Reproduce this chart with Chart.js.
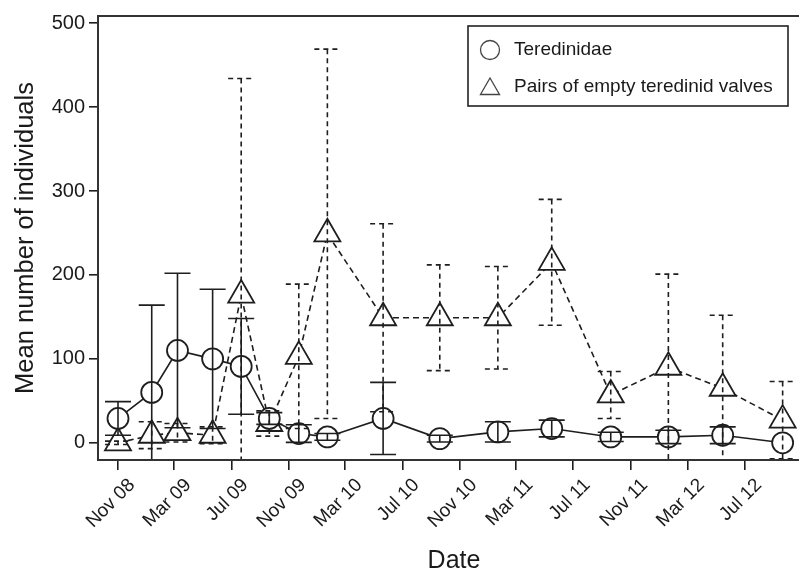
<!DOCTYPE html>
<html><head><meta charset="utf-8">
<script src="https://cdn.jsdelivr.net/npm/chart.js@4.4.1/dist/chart.umd.min.js"></script>
<style>html,body{margin:0;padding:0;background:#fff;overflow:hidden}#wrap{width:799px;height:572px;position:relative;overflow:hidden}</style>
</head><body><div id="wrap"><canvas id="c" width="810" height="572"></canvas></div>
<script>
// ---- data ----
const sampleDates = ['2008-11-01','2009-01-12','2009-03-08','2009-05-22','2009-07-22','2009-09-20','2009-11-22','2010-01-22','2010-05-21','2010-09-19','2011-01-21','2011-05-16','2011-09-19','2012-01-20','2012-05-15','2012-09-20'];
const teredinidae    = [29, 60, 110, 100, 91, 29, 11, 7, 29, 5, 13, 17, 7, 7, 9, 0];
const teredinidaeErr = [20, 104, 92, 83, 57, 7, 10.5, 4, 43, 4, 12, 10, 5.5, 8, 10, 0];
const emptyValves    = [0, 9, 12, 9, 176, 23, 103, 249, 149, 149, 149, 215, 57, 90, 65, 27];
const emptyValvesErr = [2, 16, 11, 10, 258, 15, 86, 220, 112, 63, 61, 75, 28, 111, 87, 46];
const tickDates  = ['2008-11-01','2009-03-01','2009-07-01','2009-11-01','2010-03-01','2010-07-01','2010-11-01','2011-03-01','2011-07-01','2011-11-01','2012-03-01','2012-07-01'];
const tickLabels = ['Nov 08','Mar 09','Jul 09','Nov 09','Mar 10','Jul 10','Nov 10','Mar 11','Jul 11','Nov 11','Mar 12','Jul 12'];
const yTicks = [0, 100, 200, 300, 400, 500];
const seriesNames = ['Teredinidae', 'Pairs of empty teredinid valves'];
const xTitle = 'Date';
const yTitle = 'Mean number of individuals';

const ORIGIN = Date.UTC(2008, 10, 1);
function dayOf(s) { const p = s.split('-').map(Number); return (Date.UTC(p[0], p[1]-1, p[2]) - ORIGIN) / 86400000; }
const xDays = sampleDates.map(dayOf);
const tickDays = tickDates.map(dayOf);

const INK = '#1e1e1e';
const FONT = "'Liberation Sans', Arial, Helvetica, sans-serif";

const errorBars = {
  id: 'errorBars',
  afterDatasetsDraw(chart) {
    const ctx = chart.ctx, area = chart.chartArea, ys = chart.scales.y;
    ctx.save();
    ctx.beginPath();
    ctx.rect(area.left, area.top, area.right - area.left, area.bottom - area.top);
    ctx.clip();
    chart.data.datasets.forEach((ds, di) => {
      const meta = chart.getDatasetMeta(di);
      ctx.strokeStyle = INK;
      ctx.lineWidth = 1.6;
      ctx.setLineDash(ds.errDash || []);
      ds.err.forEach((e, i) => {
        if (!e) return;
        const pt = meta.data[i];
        const v = ds.data[i].y;
        const yt = ys.getPixelForValue(v + e), yb = ys.getPixelForValue(v - e);
        ctx.beginPath();
        ctx.moveTo(pt.x, yt); ctx.lineTo(pt.x, yb);
        ctx.moveTo(pt.x - 13, yt); ctx.lineTo(pt.x + 13, yt);
        ctx.moveTo(pt.x - 13, yb); ctx.lineTo(pt.x + 13, yb);
        ctx.stroke();
      });
    });
    ctx.restore();
  }
};

const frameAndLegend = {
  id: 'frameAndLegend',
  afterDraw(chart) {
    const ctx = chart.ctx, a = chart.chartArea;
    ctx.save();
    ctx.strokeStyle = '#333';
    ctx.lineWidth = 2;
    ctx.setLineDash([]);
    ctx.beginPath();
    ctx.moveTo(a.right + 5, a.top); ctx.lineTo(a.left, a.top); ctx.lineTo(a.left, a.bottom); ctx.lineTo(a.right + 5, a.bottom);
    ctx.stroke();
    // legend
    const bx = 468, by = 26, bw = 320, bh = 80;
    ctx.lineWidth = 1.6;
    ctx.strokeStyle = '#222';
    ctx.strokeRect(bx, by, bw, bh);
    ctx.font = '19px ' + FONT;
    ctx.fillStyle = '#1a1a1a';
    ctx.textBaseline = 'middle';
    ctx.textAlign = 'left';
    const rows = [by + 24, by + 61];
    ctx.lineWidth = 1.3;
    ctx.strokeStyle = '#444';
    ctx.beginPath(); ctx.arc(bx + 22, rows[0], 9.5, 0, Math.PI * 2); ctx.stroke();
    const r = 11, cx = bx + 22, cy = rows[1] + 2;
    ctx.beginPath();
    ctx.moveTo(cx, cy - r);
    ctx.lineTo(cx + r * 0.866, cy + r / 2);
    ctx.lineTo(cx - r * 0.866, cy + r / 2);
    ctx.closePath(); ctx.stroke();
    ctx.fillText(seriesNames[0], bx + 46, rows[0]);
    ctx.fillText(seriesNames[1], bx + 46, rows[1]);
    ctx.restore();
  }
};

new Chart(document.getElementById('c'), {
  type: 'line',
  data: {
    datasets: [
      {
        label: seriesNames[0],
        data: xDays.map((x, i) => ({ x, y: teredinidae[i] })),
        err: teredinidaeErr,
        borderColor: INK, borderWidth: 1.6,
        pointStyle: 'circle', pointRadius: 10.5, pointBorderWidth: 1.8,
        pointBorderColor: INK, pointBackgroundColor: '#fff',
        tension: 0, clip: false
      },
      {
        label: seriesNames[1],
        data: xDays.map((x, i) => ({ x, y: emptyValves[i] })),
        err: emptyValvesErr, errDash: [5, 4],
        borderColor: INK, borderWidth: 1.6, borderDash: [6, 4],
        pointStyle: 'triangle', pointRadius: 15, pointBorderWidth: 1.8,
        pointBorderColor: INK, pointBackgroundColor: '#fff',
        tension: 0, clip: false
      }
    ]
  },
  options: {
    responsive: false, animation: false, devicePixelRatio: 1,
    layout: { autoPadding: false, padding: { top: 13, left: 0, right: 0, bottom: 0 } },
    plugins: { legend: { display: false }, tooltip: { enabled: false } },
    scales: {
      x: {
        type: 'linear', min: -42.7, max: 1477.4,
        afterBuildTicks: s => { s.ticks = tickDays.map(v => ({ value: v })); },
        afterFit: s => { s.height = 112; s.paddingRight = 0; },
        grid: { display: true, drawOnChartArea: false, drawTicks: true, tickLength: 10, color: INK, lineWidth: 1.6 },
        border: { display: false },
        ticks: {
          autoSkip: false, minRotation: 45, maxRotation: 45, padding: 4, labelOffset: 14,
          color: '#1a1a1a', font: { family: FONT, size: 19 },
          callback: (v, i) => tickLabels[i]
        },
        title: { display: true, text: xTitle, color: '#1a1a1a', font: { family: FONT, size: 25, lineHeight: 1 }, padding: { top: 0, bottom: -1.5 } }
      },
      y: {
        type: 'linear', min: -20.5, max: 508.5,
        afterBuildTicks: s => { s.ticks = yTicks.map(v => ({ value: v })); },
        afterFit: s => { s.width = 98; },
        grid: { display: true, drawOnChartArea: false, drawTicks: true, tickLength: 9, color: INK, lineWidth: 1.6 },
        border: { display: false },
        ticks: { padding: 4, color: '#1a1a1a', font: { family: FONT, size: 20 } },
        title: { display: true, text: yTitle, color: '#1a1a1a', font: { family: FONT, size: 25.5, lineHeight: 1 }, padding: { top: 13, bottom: 0 } }
      }
    }
  },
  plugins: [errorBars, frameAndLegend]
});
</script></body></html>
